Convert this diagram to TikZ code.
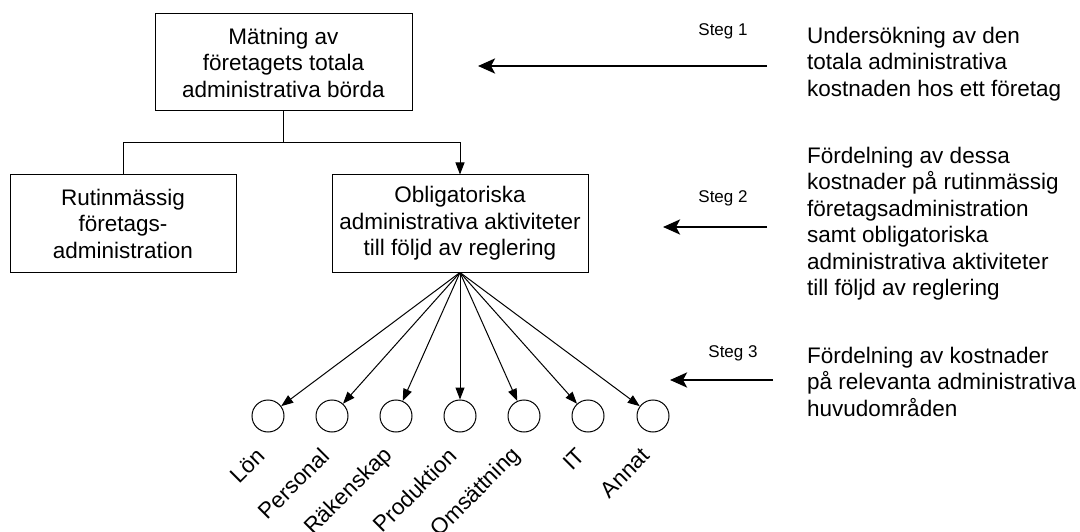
\documentclass[tikz,border=0pt]{standalone}
\usepackage{fontspec}
\setmainfont{Liberation Sans}
\usetikzlibrary{arrows.meta,calc}
\begin{document}
\begin{tikzpicture}[x=1pt,y=-1pt,
  txt/.style={font=\fontsize{22.5}{26.5}\selectfont},
  box/.style={txt, draw, line width=1pt, align=center, inner sep=0pt,
    minimum height=97pt},
  circ/.style={draw, circle, line width=1pt, minimum size=32pt, inner sep=0pt},
  thin arrow/.style={line width=1pt, -{Triangle[length=12pt,width=9pt]}},
  steg arrow/.style={line width=2.6pt, -{Stealth[length=17pt,width=15pt,inset=4pt]}},
  steglabel/.style={font=\fontsize{17}{20}\selectfont, anchor=base, inner sep=0pt},
  desc/.style={txt, anchor=north west, align=left, inner sep=0pt},
  area/.style={txt, rotate=45, anchor=east, inner sep=0pt}
]
\useasboundingbox (0,0) rectangle (1080,532);

% hierarchy boxes
\node[box, minimum width=257pt] (top) at (283.5,62.5)
  {Mätning av\\företagets totala\\administrativa börda};
\node[box, minimum width=226pt] (left) at (123,223.5)
  {Rutinmässig\\företags-\\administration};
\node[box, minimum width=256pt] (mid) at (460,223.5)
  {Obligatoriska\\administrativa aktiviteter\\till följd av reglering};

% split below the top box
\draw[line width=1pt] (top.south) -- ++(0,31) coordinate (split);
\draw[line width=1pt] (split) -| (left.north);
\draw[thin arrow] (split) -| (mid.north);

% main administrative areas
\foreach \i/\x/\t in {1/268/Lön, 2/332/Personal, 3/396/Räkenskap,
    4/460/Produktion, 5/524/Omsättning, 6/588/IT, 7/653/Annat} {
  \node[circ] (c\i) at (\x,416) {};
  \draw[thin arrow] (mid.south) -- (c\i);
  \node[area] (l\i) at ($(c\i)+(-7,36)$) {\t};
}

% steps
\coordinate (s1a) at (767,66);  \coordinate (s1b) at (478,66);
\coordinate (s2a) at (767,227); \coordinate (s2b) at (663,227);
\coordinate (s3a) at (773,380); \coordinate (s3b) at (670,380);
\draw[steg arrow] (s1a) -- (s1b);
\draw[steg arrow] (s2a) -- (s2b);
\draw[steg arrow] (s3a) -- (s3b);
\node[steglabel] (st1) at (723,36) {Steg 1};
\node[steglabel] (st2) at (723,203) {Steg 2};
\node[steglabel] (st3) at (733,357) {Steg 3};

% step descriptions
\node[desc] (d1) at (807,26.5)
  {Undersökning av den\\totala administrativa\\kostnaden hos ett företag};
\node[desc] (d2) at (807,146.5)
  {Fördelning av dessa\\kostnader på rutinmässig\\företagsadministration\\samt obligatoriska\\administrativa aktiviteter\\till följd av reglering};
\node[desc] (d3) at (807,346.5)
  {Fördelning av kostnader\\på relevanta administrativa\\huvudområden};
\end{tikzpicture}
\end{document}
